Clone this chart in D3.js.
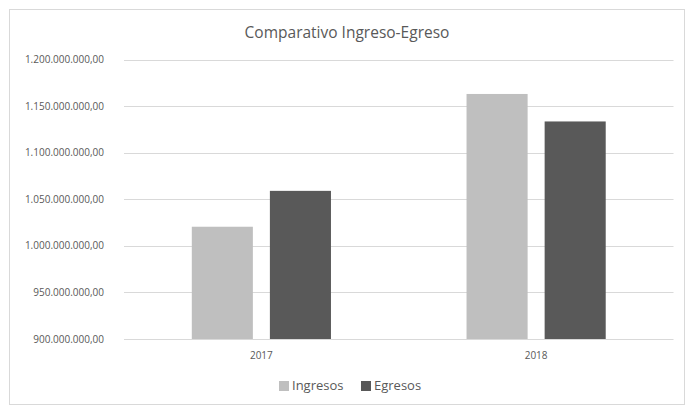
<!DOCTYPE html>
<html>
<head>
<meta charset="utf-8">
<script src="https://cdn.jsdelivr.net/npm/d3@7"></script>
<style>
  body { margin: 0; background: #fff; }
  text { font-family: "Open Sans", "Noto Sans", sans-serif; fill: #595959; }
</style>
</head>
<body>
<svg class="chart"></svg>
<script>
const years = ['2017', '2018'];
const seriesNames = ['Ingresos', 'Egresos'];
const ingresos = [1020500000, 1163000000];
const egresos = [1059000000, 1133500000];
const yTicks = [900000000, 950000000, 1000000000, 1050000000, 1100000000, 1150000000, 1200000000];

const seriesColors = ['#bfbfbf', '#595959'];

const width = 693;
const height = 414;
const margin = {top: 59.5, right: 20, bottom: 75, left: 124};

const svg = d3.select('.chart')
    .attr('width', width)
    .attr('height', height);

// chart border
svg.append('rect')
    .attr('x', 9.5)
    .attr('y', 9.5)
    .attr('width', 675)
    .attr('height', 395)
    .attr('fill', '#fff')
    .attr('stroke', '#d9d9d9');

const esLocale = d3.formatLocale({decimal: ',', thousands: '.', grouping: [3], currency: ['', '']});
const fmt = esLocale.format(',.2f');

const x0 = d3.scaleBand()
    .domain(years)
    .range([margin.left, width - margin.right + 0.5])
    .padding(0);

const x1 = d3.scaleBand()
    .domain(seriesNames)
    .range([0, x0.bandwidth()])
    .paddingInner(0.218)
    .paddingOuter(0.868);

const y = d3.scaleLinear()
    .domain([900000000, 1200000000])
    .range([height - margin.bottom, margin.top]);

// gridlines
svg.append('g')
    .attr('class', 'grid')
  .selectAll('line')
    .data(yTicks)
  .enter().append('line')
    .attr('x1', x0.range()[0])
    .attr('x2', x0.range()[1])
    .attr('y1', (d) => Math.round(y(d)) + 0.5)
    .attr('y2', (d) => Math.round(y(d)) + 0.5)
    .attr('stroke', '#d9d9d9')
    .attr('stroke-width', 1);

// y tick labels
svg.append('g')
  .selectAll('text')
    .data(yTicks)
  .enter().append('text')
    .attr('x', 104)
    .attr('y', (d) => y(d))
    .attr('dy', '0.35em')
    .attr('text-anchor', 'end')
    .style('font-size', '10px')
    .text((d) => fmt(d));

const data = years.map((yr, i) => ({
  year: yr,
  values: [
    {name: 'Ingresos', value: ingresos[i]},
    {name: 'Egresos', value: egresos[i]}
  ]
}));

const group = svg.selectAll('.year')
    .data(data)
  .enter().append('g')
    .attr('class', 'year')
    .attr('transform', (d) => `translate(${ x0(d.year) },0)`);

group.selectAll('rect')
    .data((d) => d.values)
  .enter().append('rect')
    .attr('x', (d) => x1(d.name))
    .attr('y', (d) => y(d.value))
    .attr('width', x1.bandwidth())
    .attr('height', (d) => y(900000000) - y(d.value))
    .attr('fill', (d, i) => seriesColors[i]);

// x labels
group.append('text')
    .attr('x', x0.bandwidth() / 2)
    .attr('y', y(900000000) + 20)
    .attr('text-anchor', 'middle')
    .style('font-size', '10px')
    .text((d) => d.year);

// title
svg.append('text')
    .attr('x', 347)
    .attr('y', 38)
    .attr('text-anchor', 'middle')
    .style('font-size', '15.5px')
    .text('Comparativo Ingreso-Egreso');

// legend
const legendX = [279, 361];
const legend = svg.selectAll('.legend')
    .data(seriesNames)
  .enter().append('g')
    .attr('class', 'legend')
    .attr('transform', (d, i) => `translate(${ legendX[i] },381)`);

legend.append('rect')
    .attr('width', 10)
    .attr('height', 10)
    .attr('fill', (d, i) => seriesColors[i]);

legend.append('text')
    .attr('x', 13)
    .attr('y', 9)
    .style('font-size', '13px')
    .text((d) => d);
</script>
</body>
</html>
